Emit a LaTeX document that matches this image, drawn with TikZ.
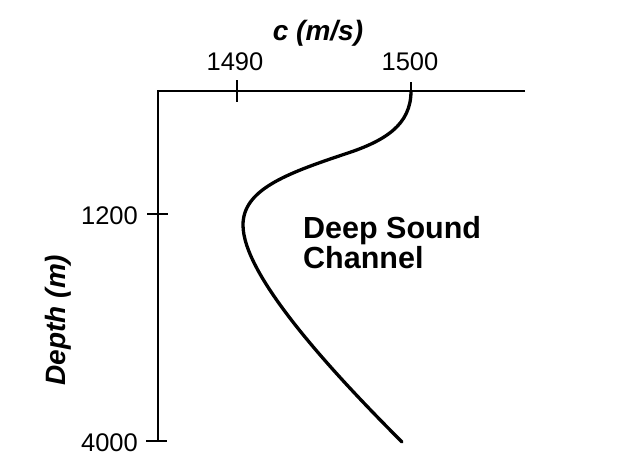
\documentclass[tikz,border=0pt]{standalone}
\usepackage{fontspec}
\setmainfont{Liberation Sans}
\begin{document}
\begin{tikzpicture}[x=1pt,y=-1pt,
  axis/.style={line width=1.8pt},
  curve/.style={line width=3.3pt},
  numlab/.style={font=\fontsize{25.5}{28}\selectfont, inner sep=0pt},
  axlab/.style={font=\fontsize{28}{30}\selectfont\bfseries\itshape, inner sep=0pt},
  chan/.style={font=\fontsize{30.5}{30}\selectfont\bfseries, inner sep=0pt, anchor=base west}]
\useasboundingbox (0,0) rectangle (629,471);
\coordinate (O) at (158,91);
\coordinate (xend) at (525,91);
\coordinate (yend) at (158,441);
\draw[axis] (xend) -- (O) -- (yend);
% ticks
\draw[axis] (237,80) -- (237,102);
\draw[axis] (411,82) -- (411,91);
\draw[axis] (147,214) -- (168,214);
\draw[axis] (146,441) -- (167,441);
% labels
\node[numlab, anchor=base] (t1490) at (235,70) {1490};
\node[numlab, anchor=base] (t1500) at (410,70) {1500};
\node[axlab, anchor=base] (cl) at (318,40) {c (m/s)};
\node[numlab, anchor=base east] (t1200) at (138,224) {1200};
\node[numlab, anchor=base east] (t4000) at (138,451) {4000};
\node[axlab, rotate=90] (dl) at (58,320) {Depth (m)};
\node[chan] (dsc1) at (303,238) {Deep Sound};
\node[chan] (dsc2) at (303,268) {Channel};
% curve
\coordinate (cA) at (411,91);
\coordinate (cB) at (345,154);
\coordinate (cC) at (243,225);
\coordinate (cD) at (402,442);
\draw[curve, line cap=round]
  (cA) .. controls (411,125) and (385,141) .. (cB)
       .. controls (285,174) and (243,190) .. (cC)
       .. controls (243,275) and (330,370) .. (cD);
\end{tikzpicture}
\end{document}
